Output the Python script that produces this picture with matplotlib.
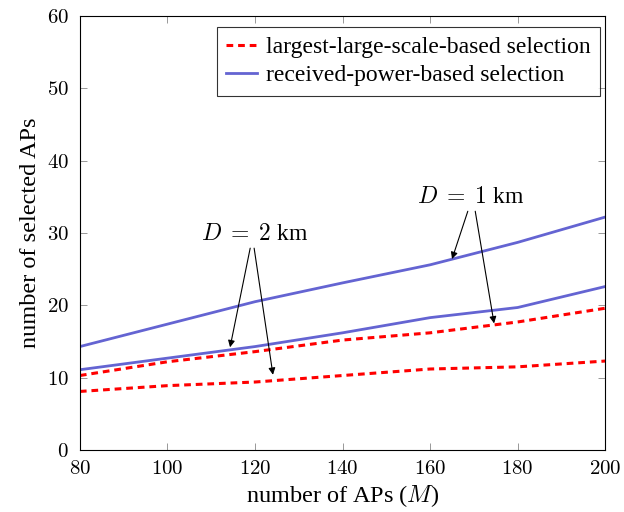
import matplotlib
matplotlib.use('Agg')
import matplotlib.pyplot as plt

plt.rcParams['font.family'] = ['Liberation Serif', 'DejaVu Serif']
plt.rcParams['mathtext.fontset'] = 'cm'

M = [80, 100, 120, 140, 160, 180, 200]
yticks = [0, 10, 20, 30, 40, 50, 60]
# largest-large-scale-based selection
lls_1km = [10.3, 12.2, 13.6, 15.2, 16.2, 17.7, 19.6]
lls_2km = [8.1, 8.9, 9.4, 10.3, 11.2, 11.5, 12.3]
# received-power-based selection
rp_1km = [14.3, 17.4, 20.5, 23.1, 25.6, 28.7, 32.2]
rp_2km = [11.1, 12.7, 14.3, 16.2, 18.3, 19.7, 22.6]

red = '#ff0000'
blue = '#6464d2'

fig = plt.figure(figsize=(6.24, 5.12), dpi=100)
ax = fig.add_axes([0.128, 0.121, 0.842, 0.848])

ax.plot(M, lls_1km, color=red, lw=2.2, ls=(0, (2.2, 1.6)), label='largest-large-scale-based selection')
ax.plot(M, rp_1km, color=blue, lw=2.0, label='received-power-based selection')
ax.plot(M, lls_2km, color=red, lw=2.2, ls=(0, (2.2, 1.6)))
ax.plot(M, rp_2km, color=blue, lw=2.0)

ax.set_xlim(80, 200)
ax.set_ylim(0, 60)
ax.set_xticks(M)
ax.set_xticklabels(['$%d$' % v for v in M])
ax.set_yticks(yticks)
ax.set_yticklabels(['$%d$' % v for v in yticks])
ax.tick_params(direction='in', top=True, right=True, labelsize=15, length=5, width=0.6, color='#888888')
ax.tick_params(axis='x', pad=7)
ax.tick_params(axis='y', pad=8)
for s in ax.spines.values():
    s.set_linewidth(0.8)

ax.set_xlabel('number of APs ($M$)', fontsize=17.5, labelpad=3)
ax.set_ylabel('number of selected APs', fontsize=17.5, labelpad=4)

arr = dict(arrowstyle='-|>', color='black', lw=0.8, mutation_scale=10, shrinkA=0, shrinkB=0)
ax.text(120, 29.8, r'$D\;=\;2$ km', fontsize=17, ha='center', va='center')
ax.annotate('', xy=(114.3, 14.2), xytext=(118.9, 27.9), arrowprops=arr)
ax.annotate('', xy=(124.1, 10.4), xytext=(119.8, 27.9), arrowprops=arr)
ax.text(169.2, 34.9, r'$D\;=\;1$ km', fontsize=17, ha='center', va='center')
ax.annotate('', xy=(165, 26.4), xytext=(168.6, 33.0), arrowprops=arr)
ax.annotate('', xy=(174.6, 17.5), xytext=(170.3, 33.0), arrowprops=arr)

leg = ax.legend(loc='upper right', bbox_to_anchor=(0.9905, 0.9747), fontsize=17, frameon=True,
                fancybox=False, edgecolor='black', handlelength=1.3, borderpad=0.4,
                labelspacing=0.3, handletextpad=0.4, borderaxespad=0)
leg.get_frame().set_linewidth(0.8)

fig.savefig('out.png', dpi=100)
